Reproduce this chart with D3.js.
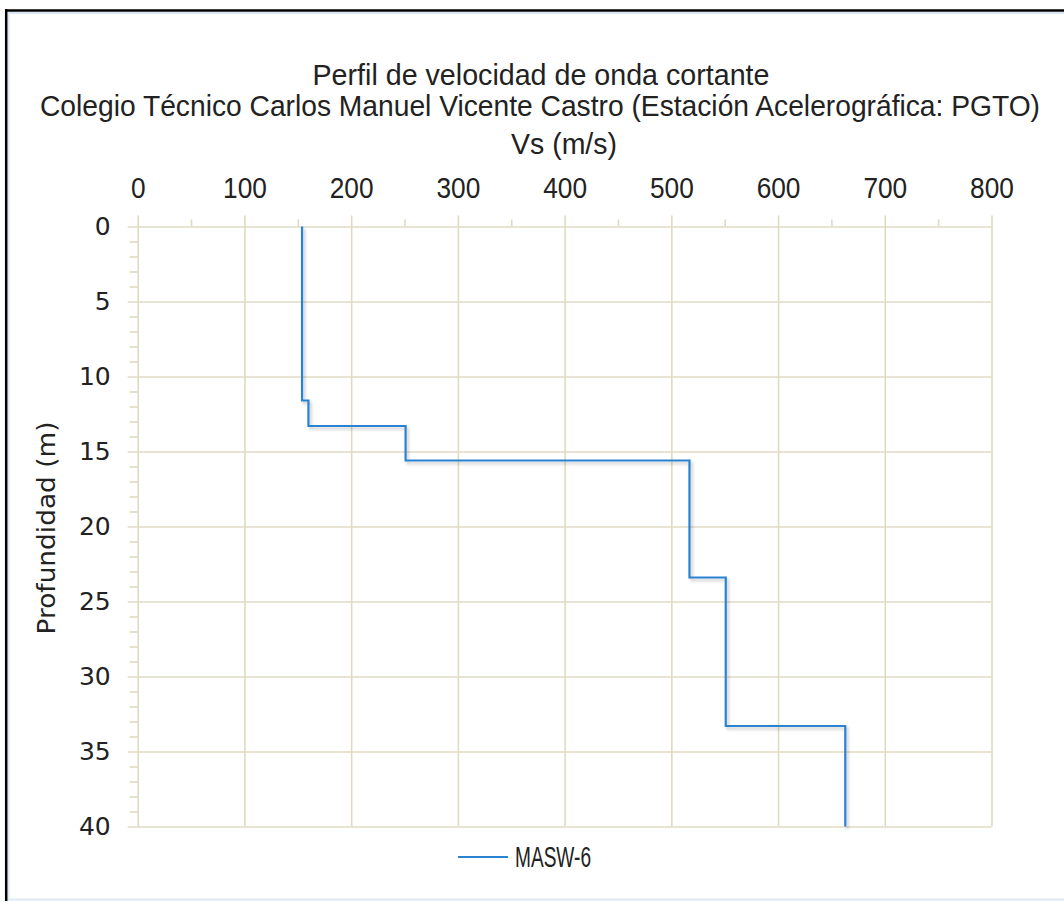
<!DOCTYPE html>
<html>
<head>
<meta charset="utf-8">
<script src="https://cdn.jsdelivr.net/npm/d3@7"></script>
<style>
  body { margin: 0; background: #fff; }
  svg { display: block; }
</style>
</head>
<body>
<div id="chart"></div>
<script>
// layer tops (m) and shear wave velocity (m/s)
var layer_top = [0, 11.6, 13.3, 15.6, 23.4, 33.3];
var layer_vs = [154, 160, 251, 517, 551, 663];
var max_depth = 40;
var x_ticks = [0, 100, 200, 300, 400, 500, 600, 700, 800];
var x_minor = [50, 150, 250, 350, 450, 550, 650, 750];
var y_ticks = [0, 5, 10, 15, 20, 25, 30, 35, 40];
var y_minor = d3.range(1, 40).filter(function(d){ return d % 5 != 0; });
var series_name = 'MASW-6';

var width = 1064, height = 901;
var p_left = 137.7, p_right = 991.5, p_top = 226.5, p_bottom = 826.5;
var grid_color = '#e0dac3';
var line_color = '#2a82d2';
var sans = '"Liberation Sans", Arial, sans-serif';

var svg = d3.select('#chart').append('svg').attr('width', width).attr('height', height);

// frame
svg.append('line').attr('x1', 8).attr('x2', width).attr('y1', 13).attr('y2', 13)
    .attr('stroke', '#dde8f6').attr('stroke-width', 2);
svg.append('line').attr('x1', 8.5).attr('x2', 8.5).attr('y1', 13).attr('y2', height)
    .attr('stroke', '#dde8f6').attr('stroke-width', 2);
svg.append('line').attr('x1', 7).attr('x2', width).attr('y1', 899.5).attr('y2', 899.5)
    .attr('stroke', '#dde8f6').attr('stroke-width', 2);
svg.append('line').attr('x1', 5).attr('x2', width).attr('y1', 10.5).attr('y2', 10.5)
    .attr('stroke', '#000').attr('stroke-width', 2.5);
svg.append('line').attr('x1', 6.2).attr('x2', 6.2).attr('y1', 9.3).attr('y2', height)
    .attr('stroke', '#000').attr('stroke-width', 2.5);

var x = d3.scaleLinear().domain([0, 800]).range([p_left, p_right]);
var y = d3.scaleLinear().domain([0, max_depth]).range([p_top, p_bottom]);

// grid + major ticks
var gx = svg.append('g').attr('transform', 'translate(0,' + (p_top - 11) + ')')
    .call(d3.axisTop(x).tickValues(x_ticks).tickSizeInner(-(p_bottom - p_top + 11)).tickSizeOuter(0).tickPadding(18));
var gy = svg.append('g').attr('transform', 'translate(' + (p_left - 10) + ',0)')
    .call(d3.axisLeft(y).tickValues(y_ticks).tickSizeInner(-(p_right - p_left + 10)).tickSizeOuter(0).tickPadding(17));
[gx, gy].forEach(function(g){
  g.select('.domain').remove();
  g.selectAll('.tick line').attr('stroke', grid_color).attr('stroke-width', 1.6);
});
gx.selectAll('.tick text').attr('font-family', sans).attr('font-size', 29).attr('fill', '#222')
    .attr('textLength', function(d){ return String(d).length * 14.6; })
    .attr('lengthAdjust', 'spacingAndGlyphs');
gy.selectAll('.tick text').attr('font-family', '"DejaVu Sans", sans-serif').attr('font-size', 25).attr('fill', '#222');

// minor ticks
var mx = svg.append('g').attr('transform', 'translate(0,' + p_top + ')')
    .call(d3.axisTop(x).tickValues(x_minor).tickSize(7).tickFormat(''));
var my = svg.append('g').attr('transform', 'translate(' + p_left + ',0)')
    .call(d3.axisLeft(y).tickValues(y_minor).tickSize(8).tickFormat(''));
[mx, my].forEach(function(g){
  g.select('.domain').remove();
  g.selectAll('.tick line').attr('stroke', grid_color).attr('stroke-width', 1.6);
});

// step profile
var pts = [];
layer_vs.forEach(function(v, i){
  var b = i < layer_top.length - 1 ? layer_top[i + 1] : max_depth;
  pts.push([v, layer_top[i]]);
  pts.push([v, b]);
});

var defs = svg.append('defs');
var f = defs.append('filter').attr('id', 'shadow').attr('x', '-10%').attr('y', '-10%').attr('width', '120%').attr('height', '120%');
f.append('feDropShadow').attr('dx', 2).attr('dy', 2.5).attr('stdDeviation', 1.6)
    .attr('flood-color', '#000').attr('flood-opacity', 0.22);

svg.append('path').datum(pts)
    .attr('d', d3.line().x(function(d){ return x(d[0]); }).y(function(d){ return y(d[1]); }))
    .attr('fill', 'none').attr('stroke', line_color).attr('stroke-width', 2.2)
    .attr('filter', 'url(#shadow)');

// titles
svg.append('text').attr('x', 541).attr('y', 85).attr('text-anchor', 'middle')
    .attr('font-family', sans).attr('font-size', 29).attr('fill', '#222')
    .attr('textLength', 457).attr('lengthAdjust', 'spacingAndGlyphs')
    .text('Perfil de velocidad de onda cortante');
svg.append('text').attr('x', 540).attr('y', 116).attr('text-anchor', 'middle')
    .attr('font-family', sans).attr('font-size', 29).attr('fill', '#222')
    .attr('textLength', 1000).attr('lengthAdjust', 'spacingAndGlyphs')
    .text('Colegio Técnico Carlos Manuel Vicente Castro (Estación Acelerográfica: PGTO)');
svg.append('text').attr('x', 564).attr('y', 154).attr('text-anchor', 'middle')
    .attr('font-family', sans).attr('font-size', 29).attr('fill', '#222')
    .attr('textLength', 106).attr('lengthAdjust', 'spacingAndGlyphs')
    .text('Vs (m/s)');
svg.append('text').attr('transform', 'translate(55,528) rotate(-90)').attr('text-anchor', 'middle')
    .attr('font-family', '"DejaVu Sans", sans-serif').attr('font-size', 24).attr('fill', '#222')
    .attr('textLength', 213).attr('lengthAdjust', 'spacingAndGlyphs')
    .text('Profundidad (m)');

// legend
svg.append('line').attr('x1', 458).attr('x2', 508).attr('y1', 857).attr('y2', 857)
    .attr('stroke', line_color).attr('stroke-width', 2.2);
svg.append('text').attr('x', 515).attr('y', 867).attr('font-family', sans)
    .attr('font-size', 29).attr('fill', '#222')
    .attr('textLength', 76).attr('lengthAdjust', 'spacingAndGlyphs')
    .text(series_name);
</script>
</body>
</html>
